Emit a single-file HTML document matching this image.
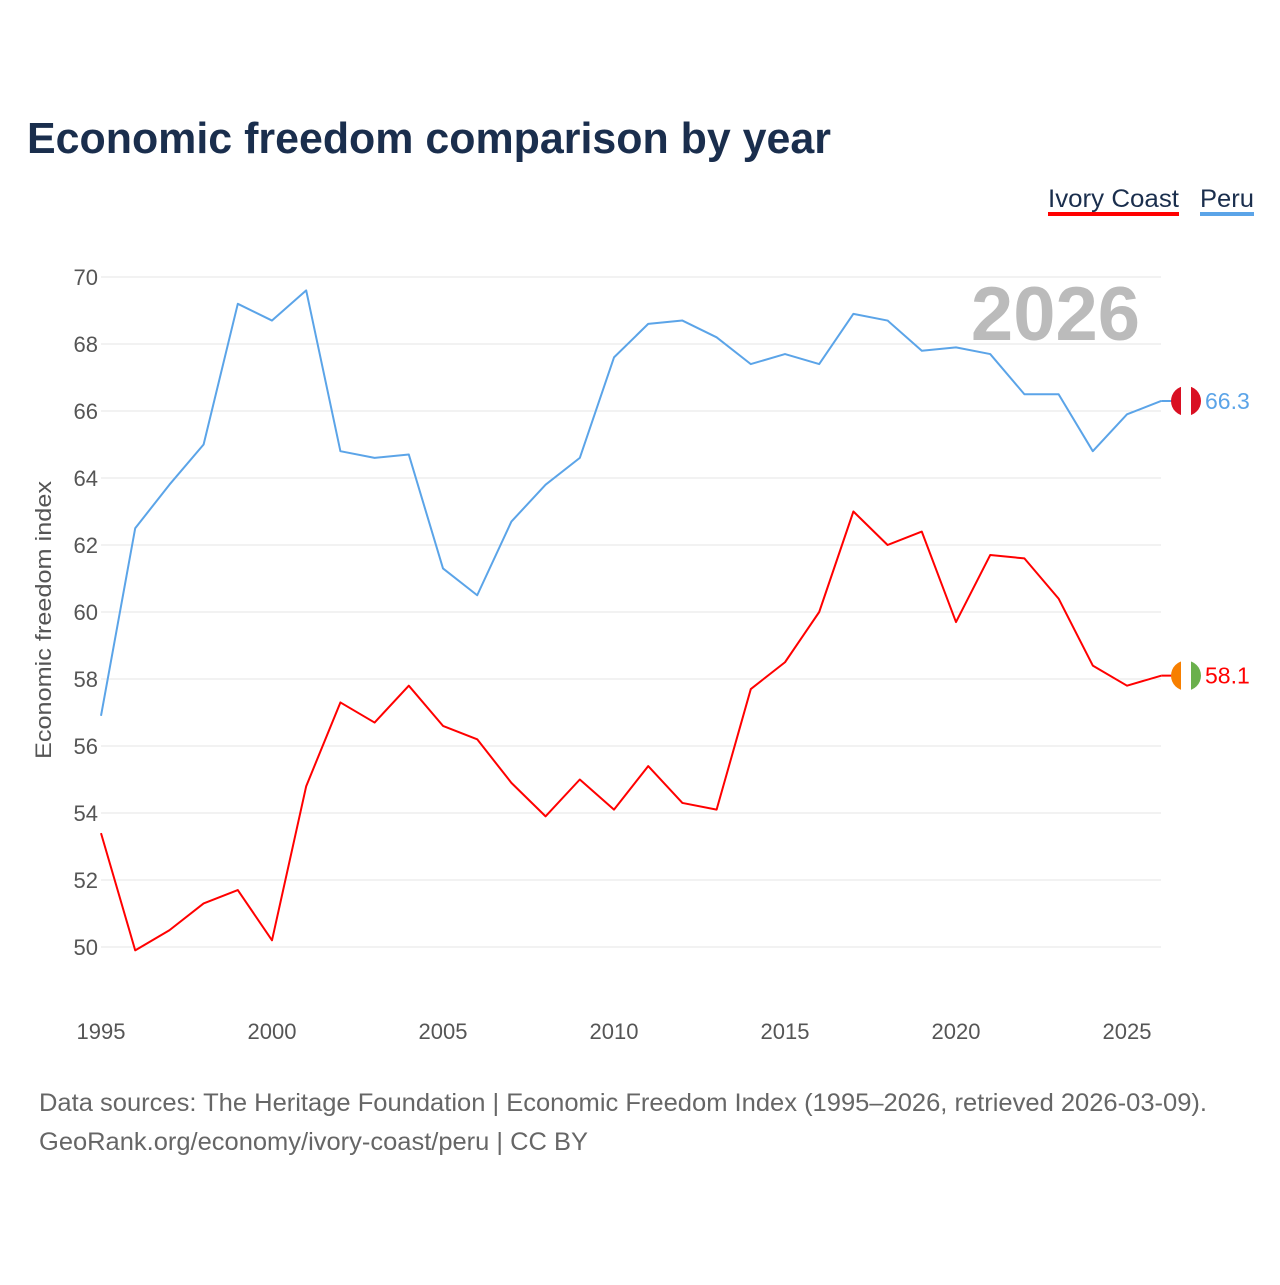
<!DOCTYPE html>
<html><head><meta charset="utf-8"><style>
body{margin:0;background:#fff;font-family:"Liberation Sans",sans-serif}
</style></head><body>
<svg width="1280" height="1280" xmlns="http://www.w3.org/2000/svg" font-family="Liberation Sans, sans-serif">
<rect width="1280" height="1280" fill="#fff"/>
<text x="27" y="153" font-size="44" font-weight="bold" fill="#1a2e4d" textLength="804" lengthAdjust="spacingAndGlyphs">Economic freedom comparison by year</text>
<g><text x="1048" y="207" font-size="25" fill="#1a2e4d" textLength="131" lengthAdjust="spacingAndGlyphs">Ivory Coast</text><rect x="1048" y="212" width="131" height="4" fill="#f00"/></g>
<g><text x="1200" y="207" font-size="25" fill="#1a2e4d" textLength="54" lengthAdjust="spacingAndGlyphs">Peru</text><rect x="1200" y="212" width="54" height="4" fill="#5ba4e8"/></g>
<text x="1140" y="340" font-size="76" font-weight="bold" fill="#bbb" text-anchor="end">2026</text>
<g id="grid"></g><g id="axes"></g><g id="lines"></g>
<text transform="translate(51,620) rotate(-90)" font-size="22" fill="#555" text-anchor="middle" textLength="278" lengthAdjust="spacingAndGlyphs">Economic freedom index</text>
<text x="39" y="1111" font-size="25" fill="#666" textLength="1168" lengthAdjust="spacingAndGlyphs">Data sources: The Heritage Foundation | Economic Freedom Index (1995–2026, retrieved 2026-03-09).</text>
<text x="39" y="1150" font-size="25" fill="#666" textLength="549" lengthAdjust="spacingAndGlyphs">GeoRank.org/economy/ivory-coast/peru | CC BY</text>
</svg>
<script>
const years=[1995,1996,1997,1998,1999,2000,2001,2002,2003,2004,2005,2006,2007,2008,2009,2010,2011,2012,2013,2014,2015,2016,2017,2018,2019,2020,2021,2022,2023,2024,2025,2026];
const peru=[56.9,62.5,63.8,65.0,69.2,68.7,69.6,64.8,64.6,64.7,61.3,60.5,62.7,63.8,64.6,67.6,68.6,68.7,68.2,67.4,67.7,67.4,68.9,68.7,67.8,67.9,67.7,66.5,66.5,64.8,65.9,66.3];
const ivory=[53.4,49.9,50.5,51.3,51.7,50.2,54.8,57.3,56.7,57.8,56.6,56.2,54.9,53.9,55.0,54.1,55.4,54.3,54.1,57.7,58.5,60.0,63.0,62.0,62.4,59.7,61.7,61.6,60.4,58.4,57.8,58.1];
const yTicks=[50,52,54,56,58,60,62,64,66,68,70];
const xTicks=[1995,2000,2005,2010,2015,2020,2025];
const NS="http://www.w3.org/2000/svg";
const x=v=>101+(v-1995)*34.2;
const y=v=>947-(v-50)*33.5;
function mk(t,a,p){const e=document.createElementNS(NS,t);for(const k in a)e.setAttribute(k,a[k]);p.appendChild(e);return e;}
const grid=document.getElementById('grid'),axes=document.getElementById('axes'),lines=document.getElementById('lines');
yTicks.forEach(v=>{
 const l=mk('line',{x1:101,x2:1161,y1:y(v),y2:y(v),stroke:'#e6e6e6','stroke-width':1},grid);
 
 
 const t=mk('text',{x:98,y:y(v)+8,'font-size':22,fill:'#555','text-anchor':'end'},axes);
 t.textContent=v;
 
 
});
xTicks.forEach(v=>{
 const t=mk('text',{x:x(v),y:1039,'font-size':22,fill:'#555','text-anchor':'middle'},axes);
 t.textContent=v;
 
 
});
function series(vals,color,name,flag){
 const p=mk('polyline',{points:vals.map((v,i)=>x(years[i])+','+y(vals[i])).join(' '),fill:'none',stroke:color,'stroke-width':2,'stroke-linejoin':'round'},lines);
 
 
 const last=vals[vals.length-1],cx=1186,cy=y(last);
 mk('line',{x1:x(2026),x2:cx,y1:cy,y2:cy,stroke:color,'stroke-width':2},lines);
 const g=mk('g',{},lines);
 
 
 const cp=mk('clipPath',{id:'c'+name},g);mk('circle',{cx:cx,cy:cy,r:15},cp);
 const gg=mk('g',{'clip-path':'url(#c'+name+')'},g);
 flag.forEach((c,i)=>mk('rect',{x:cx-15+i*10,y:cy-15,width:10,height:30,fill:c},gg));
 const t=mk('text',{x:1205,y:cy+8,'font-size':23,fill:color},lines);
 t.textContent=last.toFixed(1);
 
 
}
series(peru,'#5ba4e8','peru',['#d91023','#fff','#d91023']);
series(ivory,'#f00','ivory-coast',['#f77f00','#fff','#6ab04c']);
</script>
</body></html>
